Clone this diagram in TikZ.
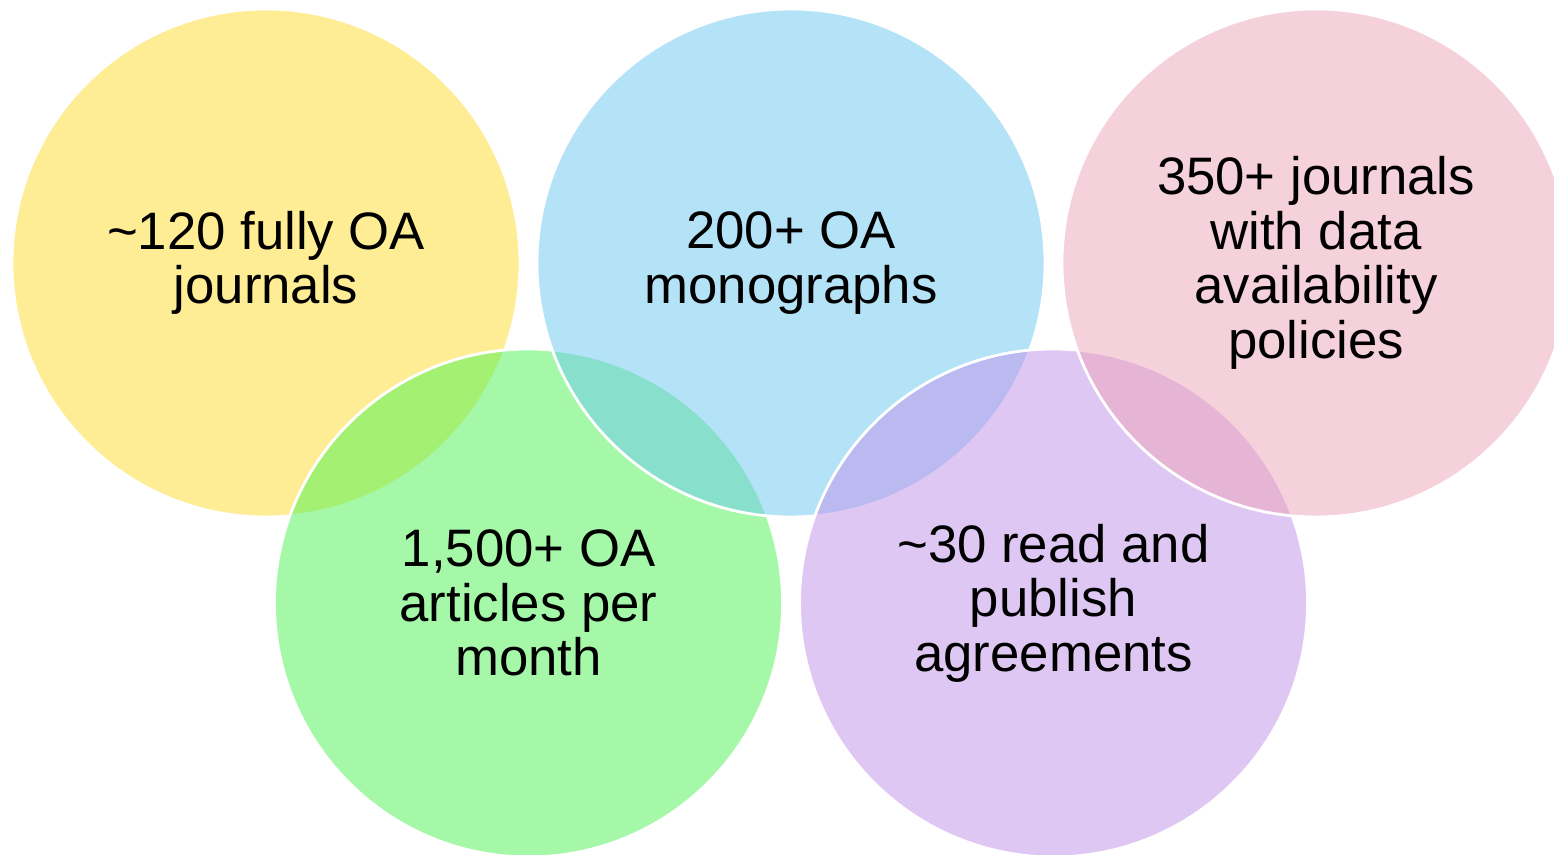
\documentclass[tikz,border=0pt]{standalone}
\usepackage{fontspec}
\setmainfont{Liberation Sans}
\usepackage{tikz}

\definecolor{vyellow}{RGB}{255,221,45}
\definecolor{vgreen}{RGB}{75,243,83}
\definecolor{vblue}{RGB}{107,199,241}
\definecolor{vpurple}{RGB}{193,145,235}
\definecolor{vpink}{RGB}{237,165,185}

\begin{document}
\begin{tikzpicture}[venn/.style={fill opacity=0.5, draw=white, line width=0.8pt},
    txt/.style={align=center, text opacity=1, inner sep=0pt, font=\fontsize{15}{15.5}\selectfont}]
    \fill [white] (0,0) rectangle (15.54,8.55);
    \useasboundingbox (0,0) rectangle (15.54,8.55);
    % centres, left to right
    \coordinate (c1) at (2.66,5.92);
    \coordinate (c2) at (5.285,2.52);
    \coordinate (c3) at (7.91,5.92);
    \coordinate (c4) at (10.535,2.52);
    \coordinate (c5) at (13.16,5.92);
    \filldraw [venn,fill=vyellow] (c1) circle [radius=2.54] node [txt] (journals) {\textasciitilde120 fully OA\\journals};
    \filldraw [venn,fill=vgreen] (c2) circle [radius=2.54] node [txt] (articles) {1,500+ OA\\articles per\\month};
    \filldraw [venn,fill=vblue] (c3) circle [radius=2.54] node [txt] (monographs) {200+ OA\\monographs};
    \filldraw [venn,fill=vpurple] (c4) circle [radius=2.54] node [txt] (agreements) {\textasciitilde30 read and\\publish\\agreements};
    \filldraw [venn,fill=vpink] (c5) circle [radius=2.54] node [txt] (policies) {350+ journals\\with data\\availability\\policies};
  \end{tikzpicture}
\end{document}
